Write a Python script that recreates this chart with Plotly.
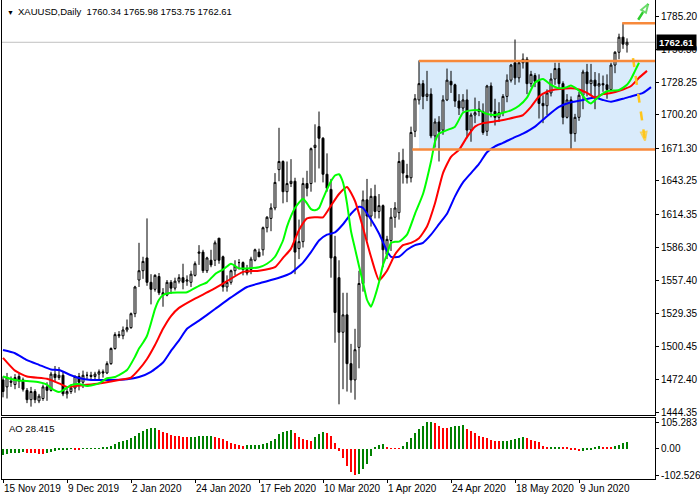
import plotly.graph_objects as go

# XAUUSD daily bars, 15 Nov 2019 .. 25 Jun 2020 (broker skips 25 Dec, 1 Jan, 10 Apr)
opens = [1472, 1466, 1471, 1468, 1475, 1472, 1463, 1455, 1462, 1454,
         1456, 1466, 1463, 1477, 1474, 1476, 1460, 1462, 1465, 1475,
         1470, 1476, 1476, 1475, 1477, 1479, 1478, 1486, 1499, 1511,
         1510, 1515, 1517, 1529, 1558, 1566, 1577, 1556, 1550, 1561,
         1547, 1545, 1556, 1551, 1557, 1560, 1557, 1556, 1562, 1581,
         1582, 1566, 1575, 1575, 1594, 1578, 1552, 1556, 1566, 1573,
         1573, 1567, 1567, 1575, 1582, 1584, 1603, 1611, 1620, 1653,
         1660, 1634, 1641, 1643, 1585, 1591, 1641, 1641, 1672, 1690,
         1680, 1649, 1636, 1578, 1560, 1513, 1528, 1486, 1472, 1500,
         1555, 1627, 1613, 1630, 1617, 1622, 1580, 1592, 1612, 1616,
         1661, 1648, 1646, 1686, 1713, 1727, 1716, 1718, 1682, 1694,
         1687, 1713, 1729, 1726, 1712, 1706, 1713, 1687, 1700, 1705,
         1703, 1686, 1725, 1703, 1698, 1702, 1716, 1730, 1745, 1732,
         1745, 1748, 1727, 1734, 1729, 1710, 1708, 1719, 1731, 1740,
         1727, 1698, 1713, 1684, 1698, 1717, 1737, 1727, 1730, 1725,
         1727, 1726, 1722, 1743, 1754, 1767, 1760.34]
highs = [1475, 1478, 1475, 1477, 1478, 1474, 1465, 1466, 1464, 1460,
         1468, 1470, 1479, 1484, 1483, 1479, 1465, 1468, 1476, 1478,
         1480, 1479, 1479, 1479, 1481, 1481, 1488, 1500, 1513, 1514,
         1518, 1524, 1530, 1553, 1590, 1578, 1611, 1563, 1563, 1564,
         1551, 1558, 1558, 1560, 1563, 1572, 1562, 1566, 1574, 1588,
         1584, 1578, 1584, 1592, 1594, 1579, 1562, 1567, 1575, 1576,
         1574, 1571, 1578, 1585, 1585, 1604, 1613, 1624, 1650, 1689,
         1661, 1660, 1662, 1646, 1610, 1646, 1652, 1672, 1692, 1703,
         1681, 1667, 1645, 1596, 1575, 1547, 1547, 1503, 1516, 1566,
         1635, 1645, 1637, 1640, 1632, 1623, 1596, 1620, 1625, 1668,
         1671, 1658, 1690, 1718, 1747, 1730, 1738, 1723, 1697, 1699,
         1717, 1740, 1738, 1727, 1718, 1718, 1722, 1702, 1715, 1712,
         1710, 1726, 1728, 1714, 1711, 1718, 1735, 1744, 1765, 1747,
         1753, 1750, 1738, 1736, 1735, 1717, 1722, 1736, 1745, 1745,
         1729, 1718, 1716, 1701, 1720, 1739, 1744, 1744, 1737, 1736,
         1734, 1735, 1745, 1755, 1770, 1779, 1765.98]
lows = [1457, 1456, 1466, 1464, 1465, 1462, 1452, 1449, 1452, 1452,
        1454, 1454, 1462, 1470, 1472, 1458, 1456, 1460, 1461, 1463,
        1465, 1472, 1472, 1472, 1472, 1474, 1477, 1485, 1498, 1508,
        1507, 1513, 1516, 1526, 1552, 1559, 1553, 1537, 1548, 1545,
        1535, 1544, 1546, 1549, 1555, 1550, 1553, 1552, 1561, 1571,
        1564, 1564, 1569, 1570, 1572, 1548, 1548, 1554, 1562, 1567,
        1562, 1562, 1563, 1574, 1578, 1579, 1599, 1600, 1618, 1643,
        1624, 1625, 1638, 1563, 1576, 1586, 1630, 1634, 1642, 1654,
        1642, 1634, 1560, 1504, 1451, 1464, 1462, 1461, 1455, 1482,
        1548, 1592, 1604, 1611, 1611, 1569, 1576, 1583, 1603, 1610,
        1641, 1641, 1642, 1681, 1709, 1705, 1712, 1680, 1672, 1660,
        1683, 1712, 1719, 1707, 1700, 1703, 1680, 1677, 1693, 1699,
        1683, 1682, 1698, 1691, 1694, 1699, 1711, 1728, 1726, 1728,
        1740, 1718, 1724, 1724, 1697, 1693, 1700, 1716, 1726, 1723,
        1692, 1697, 1670, 1677, 1695, 1705, 1716, 1717, 1705, 1715,
        1720, 1714, 1721, 1736, 1748, 1757, 1753.75]
closes = [1462, 1474, 1470, 1474, 1471, 1464, 1455, 1462, 1455, 1458,
          1466, 1463, 1477, 1474, 1476, 1460, 1462, 1465, 1475, 1470,
          1476, 1476, 1475, 1477, 1479, 1478, 1486, 1499, 1511, 1510,
          1515, 1517, 1529, 1552, 1566, 1574, 1556, 1550, 1562, 1547,
          1545, 1556, 1551, 1557, 1560, 1556, 1558, 1563, 1572, 1582,
          1566, 1577, 1571, 1590, 1575, 1552, 1556, 1566, 1570, 1573,
          1567, 1564, 1576, 1584, 1578, 1603, 1612, 1620, 1642, 1660,
          1634, 1641, 1643, 1582, 1591, 1641, 1637, 1671, 1674, 1680,
          1649, 1637, 1577, 1530, 1513, 1528, 1486, 1472, 1498, 1555,
          1627, 1613, 1630, 1617, 1622, 1584, 1593, 1612, 1620, 1660,
          1650, 1646, 1685, 1714, 1727, 1716, 1718, 1682, 1694, 1686,
          1713, 1730, 1726, 1712, 1706, 1713, 1687, 1700, 1702, 1703,
          1685, 1725, 1703, 1698, 1702, 1716, 1730, 1743, 1732, 1745,
          1748, 1727, 1735, 1729, 1710, 1708, 1719, 1731, 1740, 1727,
          1698, 1713, 1684, 1698, 1717, 1737, 1727, 1730, 1725, 1727,
          1726, 1722, 1743, 1754, 1767, 1761, 1762.61]

# awesome oscillator, one value per bar
ao = [-26, -19.5, -17, -15.6, -15.4, -13, -15.6, -17, -17.5, -19.5,
      -20, -17, -13, -6.5, -2.6, -1.3, -0.8, -0.5, -1.5, -1.8,
      -0.5, 0.2, 1.3, 2, 2.6, 6.5, 9, 13, 19.5, 26,
      31, 36, 43, 49, 61, 70, 77, 80.6, 82, 74,
      67.6, 61, 56, 52, 49, 48, 47, 47.5, 48, 48.7,
      49.4, 50, 50.7, 48, 41.6, 37.7, 31, 24.7, 20.8, 17,
      13, 13.6, 14.3, 15, 16.3, 19.5, 24.7, 30, 39, 57,
      66, 70, 72.8, 64, 45.7, 36.8, 36.4, 32.7, 45.7, 60,
      65.3, 62.7, 49.7, 23.5, -6.5, -35, -68, -90, -102.526, -100,
      -78, -59, -29, 4, 17, 17.5, 8, 2.6, 2.4, 2.3,
      13, 28.6, 41.6, 62.4, 78, 91, 104, 105.283, 101, 91,
      82, 81.5, 84.5, 88.4, 91, 93.6, 78, 69, 61, 52,
      45.5, 41.6, 36.4, 30, 29.5, 30, 30.2, 36.4, 39, 43,
      45.5, 41.6, 36.4, 30, 26, 13, 6.5, 7.8, 9, 9.1,
      7.8, 5, -1, -3, -10, -6.5, -4, -1, 9, 10,
      9, 6.5, 6, 13, 17, 24, 28.415]

# alligator lines (bar index -> price), they run past the last bar
lips_x = [0, 3, 6, 9, 11, 12, 14, 15, 17, 19, 21, 24, 26, 28, 31, 33, 34, 35, 36, 37,
          38, 39, 40, 42, 46, 49, 51, 53, 55, 57, 59, 61, 64, 66, 68, 70, 71, 72, 73, 75,
          76, 77, 78, 79, 80, 81, 82, 83, 84, 85, 86, 87, 88, 89, 90, 91, 92, 93, 94, 95,
          96, 97, 98, 99, 101, 103, 105, 107, 108, 109, 111, 113, 115, 117, 119, 121, 123, 125, 127, 129,
          131, 133, 135, 137, 139, 141, 142, 144, 146, 147, 149, 151, 154, 156, 157, 158, 159]
lips_y = [1475, 1472, 1471, 1470, 1468, 1465, 1461.6, 1463, 1467.5, 1468.5, 1466.7, 1469, 1473.4, 1474.5, 1480.5, 1492, 1499, 1504, 1510, 1521,
          1533, 1541, 1545, 1547, 1547.5, 1553, 1556, 1563, 1567, 1572, 1568, 1568, 1569, 1572, 1578, 1592, 1604, 1613, 1620, 1628,
          1624, 1619, 1618, 1620, 1628, 1636, 1643, 1648, 1649, 1642, 1624, 1600, 1585, 1570, 1556, 1541, 1535, 1544, 1556, 1571,
          1580, 1590, 1591, 1591, 1597, 1615, 1632, 1660, 1677, 1684, 1687, 1690, 1702, 1704, 1704, 1701, 1700, 1702, 1704, 1708,
          1715, 1728, 1731, 1726, 1723, 1724, 1725.5, 1721, 1712, 1710, 1716, 1720.5, 1721.5, 1726, 1731, 1738, 1745]
teeth_x = [0, 3, 6, 11, 14, 16, 20, 24, 29, 32, 34, 36, 38, 40, 42, 44, 48, 52, 56, 60,
           64, 68, 70, 72, 74, 76, 78, 80, 82, 84, 86, 88, 90, 92, 94, 96, 98, 100, 102, 104,
           106, 108, 110, 112, 114, 116, 118, 120, 124, 128, 130, 132, 134, 136, 138, 142, 144, 146, 148, 150,
           152, 155, 157, 159, 161]
teeth_y = [1491, 1480, 1475, 1473, 1469, 1466, 1467.5, 1469, 1472, 1474, 1481, 1490, 1502, 1516, 1527, 1534, 1542, 1549, 1557, 1565,
           1566, 1569, 1577, 1585, 1601, 1611, 1612, 1612, 1622, 1632, 1638, 1626, 1603, 1578, 1558, 1566, 1580, 1588, 1590, 1594,
           1604, 1624, 1650, 1664, 1670, 1681, 1690, 1693, 1695, 1698, 1700, 1707, 1716, 1720, 1722, 1723, 1722, 1719, 1715, 1718,
           1719, 1722, 1725, 1732, 1738]
jaw_x = [0, 3, 6, 9, 12, 14, 17, 19, 22, 27, 31, 34, 37, 40, 42, 44, 46, 49, 53, 57,
         61, 65, 69, 72, 75, 77, 79, 81, 83, 85, 87, 89, 90, 92, 94, 96, 97, 99, 101, 103,
         105, 107, 109, 111, 113, 115, 117, 119, 121, 123, 125, 128, 130, 133, 136, 139, 142, 145, 148, 150,
         152, 155, 157, 160, 162]
jaw_y = [1497.7, 1495, 1489, 1485, 1481, 1480.5, 1476, 1473.6, 1472, 1472, 1472.6, 1474.5, 1479, 1487, 1497, 1506, 1516, 1523, 1533, 1543,
         1552, 1556, 1560, 1564, 1573, 1582, 1592, 1597, 1599, 1606, 1615, 1621, 1620, 1610, 1598, 1583, 1578, 1578, 1584, 1588,
         1590, 1597, 1606, 1615, 1630, 1642, 1650, 1658, 1668, 1673, 1676, 1681, 1684, 1690, 1699, 1707, 1711, 1713, 1715, 1713,
         1711.5, 1714, 1716, 1719, 1724]

date_idx = [0, 16, 32, 48, 64, 80, 96, 112, 128, 144]
date_labels = ["15 Nov 2019", "9 Dec 2019", "2 Jan 2020", "24 Jan 2020", "17 Feb 2020",
               "10 Mar 2020", "1 Apr 2020", "24 Apr 2020", "18 May 2020", "9 Jun 2020"]
price_ticks = [1785.20, 1756.30, 1728.25, 1700.20, 1671.30, 1643.25, 1614.35,
               1586.30, 1557.40, 1529.35, 1500.45, 1472.40, 1444.35]
ao_ticks = [105.283, 0.0, -102.526]
ao_ticktext = ["105.283", "0.00", "-102.526"]

# drawn objects: trading range, breakout high, forecast arrows
range_top = 1746.5
range_bottom = 1670.3
range_start = 104
support_start = 102.3
breakout_high = 1779.0
breakout_start = 154.8
up_arrow_x = [158.8, 161.3]
up_arrow_y = [1782, 1795.5]
down_arrow_x = [157.5, 160.5]
down_arrow_y = [1749, 1678]

bars = list(range(len(closes)))
x_end = 163
font = "Liberation Sans"
fsize = 10

fig = go.Figure()

fig.add_trace(go.Candlestick(
    x=bars, open=opens, high=highs, low=lows, close=closes,
    increasing=dict(line=dict(color="black", width=1), fillcolor="white"),
    decreasing=dict(line=dict(color="black", width=1), fillcolor="black"),
    whiskerwidth=0, showlegend=False, hoverinfo="skip",
    xaxis="x", yaxis="y"))

for lx, ly, col in [(jaw_x, jaw_y, "#0000FF"), (teeth_x, teeth_y, "#FF0000"), (lips_x, lips_y, "#00FF00")]:
    fig.add_trace(go.Scatter(x=lx, y=ly, mode="lines",
                             line=dict(color=col, width=2, shape="spline", smoothing=0.5),
                             showlegend=False, hoverinfo="skip", xaxis="x", yaxis="y"))

# forecast arrows
for ax_, ay_, col in [(up_arrow_x, up_arrow_y, "#2ECC2E"), (down_arrow_x, down_arrow_y, "#FFC61A")]:
    fig.add_trace(go.Scatter(x=ax_, y=ay_, mode="lines+markers",
                             line=dict(color=col, width=2.5, dash="dash"),
                             marker=dict(symbol=["circle", "arrow-open"], size=[0, 9], angleref="previous",
                                         color=col, line=dict(color=col, width=2)),
                             showlegend=False, hoverinfo="skip", xaxis="x", yaxis="y"))

# AO histogram, green when rising, red when falling
ao_colors = ["#008000"]
for i in range(1, len(ao)):
    ao_colors.append("#008000" if ao[i] > ao[i - 1] else "#FF0000")
fig.add_trace(go.Bar(x=bars, y=ao, marker=dict(color=ao_colors, line=dict(width=0)),
                     width=0.3, showlegend=False, hoverinfo="skip", xaxis="x2", yaxis="y2"))

shapes = [
    dict(type="rect", xref="x", yref="y", x0=range_start, x1=x_end, y0=range_bottom, y1=range_top,
         fillcolor="#D9EBFB", line=dict(width=0), layer="below"),
    dict(type="line", xref="paper", yref="y", x0=0, x1=1, y0=closes[-1], y1=closes[-1],
         line=dict(color="#C0C0C0", width=1), layer="below"),
    dict(type="line", xref="x", yref="y", x0=range_start, x1=x_end, y0=range_top, y1=range_top,
         line=dict(color="#F7893B", width=2.5)),
    dict(type="line", xref="x", yref="y", x0=support_start, x1=x_end, y0=range_bottom, y1=range_bottom,
         line=dict(color="#F7893B", width=2.5)),
    dict(type="line", xref="x", yref="y", x0=breakout_start, x1=x_end, y0=breakout_high, y1=breakout_high,
         line=dict(color="#F7893B", width=2.5)),
]

header = "XAUUSD,Daily  %.2f %.2f %.2f %.2f" % (opens[-1], highs[-1], lows[-1], closes[-1])
annotations = [
    dict(xref="paper", yref="paper", x=0.005, y=1, yshift=-7, xanchor="left", yanchor="top",
         text="▼", showarrow=False, font=dict(family=font, size=7, color="black")),
    dict(xref="paper", yref="paper", x=0.022, y=1, yshift=-4, xanchor="left", yanchor="top",
         text=header, showarrow=False, font=dict(family=font, size=9.5, color="black")),
    dict(xref="paper", yref="y2 domain", x=0.008, y=1, yshift=-3, xanchor="left", yanchor="top",
         text="AO %.3f" % ao[-1], showarrow=False, font=dict(family=font, size=9.5, color="black")),
    dict(xref="paper", yref="y", x=1, xshift=1, y=closes[-1], xanchor="left", yanchor="middle",
         text="<b>%.2f</b>" % closes[-1], showarrow=False, bgcolor="black", borderpad=2,
         font=dict(family=font, size=9.5, color="white")),
]

fig.update_layout(
    width=700, height=500,
    margin=dict(l=2, r=45, t=0, b=21, autoexpand=False),
    paper_bgcolor="white", plot_bgcolor="white", showlegend=False,
    font=dict(family=font, size=fsize, color="black"),
    shapes=shapes, annotations=annotations,
    bargap=0,
    xaxis=dict(domain=[0, 1], range=[-0.25, x_end], anchor="y", showticklabels=False, automargin=False,
               showgrid=False, zeroline=False, showline=True, linecolor="black", linewidth=1,
               rangeslider=dict(visible=False), fixedrange=True),
    yaxis=dict(domain=[0.1336, 1], range=[1441.8, 1799.0], side="right", automargin=False,
               tickvals=price_ticks, ticktext=["%.2f" % v for v in price_ticks],
               ticks="outside", ticklen=3, tickcolor="black", showgrid=False, zeroline=False,
               showline=True, mirror=True, linecolor="black", linewidth=1),
    xaxis2=dict(domain=[0, 1], range=[-0.25, x_end], anchor="y2", matches="x", automargin=False,
                tickvals=date_idx, ticktext=date_labels, ticklabelposition="outside right", tickangle=0,
                ticks="outside", ticklen=3, tickcolor="black", showgrid=False, zeroline=False,
                showline=True, mirror=True, linecolor="black", linewidth=1),
    yaxis2=dict(domain=[0, 0.1273], range=[-118.2, 121], side="right", anchor="x2", automargin=False,
                tickvals=ao_ticks, ticktext=ao_ticktext,
                ticks="outside", ticklen=3, tickcolor="black", showgrid=False, zeroline=False,
                showline=True, mirror=True, linecolor="black", linewidth=1),
)

# the page's default 8px body margin would push the chart off the window
fig.write_html("out.html", config={"displayModeBar": False},
               post_script="document.body.style.margin='0px';")
